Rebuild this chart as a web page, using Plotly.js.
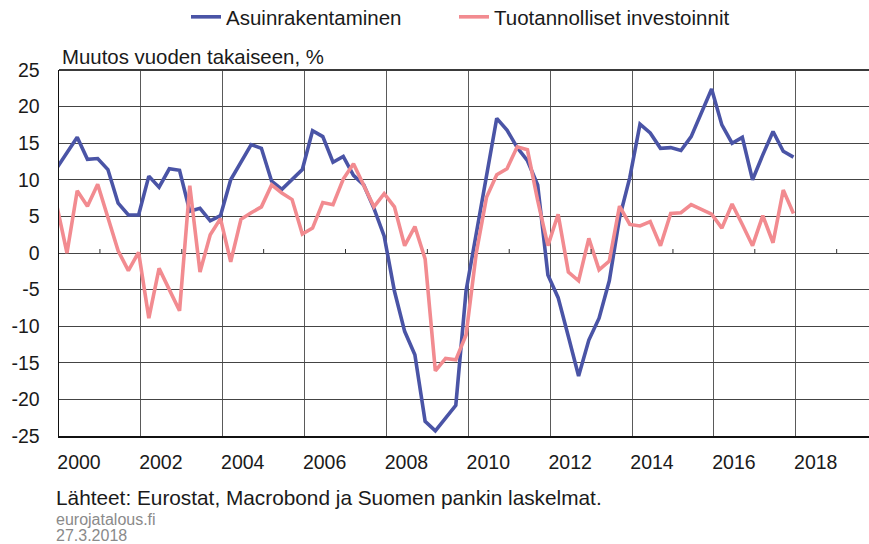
<!DOCTYPE html>
<html><head><meta charset="utf-8">
<script src="https://cdn.plot.ly/plotly-3.0.1.min.js"></script>
<style>html,body{margin:0;padding:0;background:#fff;}#chart{width:869px;height:544px;}</style>
</head><body><div id="chart"></div>
<script>
// Quarterly observations, 1999Q4 ... 2017Q4 (year-on-year change, %)
const firstPointYear = 1999.945;
const quarterLength = 0.25;

const asuinrakentaminen = [
  11.6, 13.7, 15.8, 12.8, 12.9, 11.4, 6.8, 5.2, 5.2, 10.5,
  9.0, 11.5, 11.3, 5.7, 6.1, 4.4, 5.1, 10.0, 12.5, 14.8,
  14.3, 9.8, 8.7, 10.0, 11.4, 16.7, 15.9, 12.4, 13.2, 10.6,
  9.3, 6.1, 2.3, -5.2, -10.7, -13.9, -23.0, -24.3, -22.6, -20.8,
  -5.2, 2.5, 10.5, 18.4, 16.8, 14.4, 12.6, 9.3, -3.0, -6.1,
  -11.4, -16.8, -11.9, -8.9, -3.8, 4.8, 10.3, 17.6, 16.4, 14.3,
  14.4, 14.0, 15.9, 19.1, 22.4, 17.5, 15.0, 15.8, 10.0, 13.4,
  16.6, 13.9, 13.1
];

const tuotannollisetInvestoinnit = [
  6.5, 0.0, 8.5, 6.4, 9.4, 4.8, 0.3, -2.4, 0.1, -8.9,
  -2.1, -5.0, -7.9, 9.2, -2.6, 2.5, 4.7, -1.2, 4.6, 5.5,
  6.3, 9.3, 8.2, 7.3, 2.6, 3.4, 6.9, 6.6, 10.1, 12.2,
  9.3, 6.3, 8.1, 6.3, 1.0, 3.6, -0.8, -16.1, -14.4, -14.6,
  -11.2, 0.0, 7.6, 10.7, 11.5, 14.5, 14.1, 7.2, 1.0, 5.3,
  -2.6, -3.8, 2.0, -2.3, -1.1, 6.4, 3.9, 3.7, 4.3, 1.0,
  5.4, 5.5, 6.6, 5.9, 5.3, 3.4, 6.7, 3.9, 1.0, 5.1,
  1.4, 8.6, 5.4
];

const seriesNames = ['Asuinrakentaminen', 'Tuotannolliset investoinnit'];
const xGridYears = [2000, 2002, 2004, 2006, 2008, 2010, 2012, 2014, 2016, 2018];
const xTickLabels = ['2000', '2002', '2004', '2006', '2008', '2010', '2012', '2014', '2016', '2018'];
const minorTickYears = [2001, 2003, 2005, 2007, 2009, 2011, 2013, 2015, 2017, 2019];
const yTickValues = [-25, -20, -15, -10, -5, 0, 5, 10, 15, 20, 25];
const yTickLabels = ['-25', '-20', '-15', '-10', '-5', '0', '5', '10', '15', '20', '25'];

const xDates = asuinrakentaminen.map((_, i) => firstPointYear + i * quarterLength);

// layout geometry (pixels)
const W = 869, H = 544;
const M = {l: 59, r: 0, t: 70, b: 108};
const px = x => (x - M.l) / (W - M.l - M.r);
const py = y => (H - M.b - y) / (H - M.t - M.b);

const FONT = 'Liberation Sans, Arial, sans-serif';

const traces = [
  {x: xDates, y: asuinrakentaminen, name: seriesNames[0], type: 'scatter', mode: 'lines',
   legendwidth: 223, line: {color: '#4a54a6', width: 3.6}},
  {x: xDates, y: tuotannollisetInvestoinnit, name: seriesNames[1], type: 'scatter', mode: 'lines',
   legendwidth: 250, line: {color: '#f28b90', width: 3.6}}
];

const shapes = minorTickYears.map(yr => ({
  type: 'line', xref: 'x', yref: 'y', ysizemode: 'pixel', yanchor: 0,
  x0: yr, x1: yr, y0: 0, y1: 4, line: {color: '#333', width: 1}
}));
shapes.push({type: 'line', xref: 'paper', yref: 'paper', x0: 0, x1: 1, y0: 1, y1: 1,
  line: {color: '#3a3a3a', width: 2}});

const layout = {
  width: W, height: H,
  margin: M,
  paper_bgcolor: '#fff', plot_bgcolor: '#fff',
  font: {family: FONT, size: 20, color: '#1a1a1a'},
  showlegend: true,
  legend: {
    orientation: 'h', xref: 'container', yref: 'container',
    x: 186 / W, xanchor: 'left', y: 1 - 17 / H, yanchor: 'middle',
    font: {family: FONT, size: 20.5, color: '#1a1a1a'},
    entrywidthmode: 'pixels',
    bgcolor: 'rgba(0,0,0,0)', borderwidth: 0
  },
  xaxis: {
    range: [2000, 2019.79], tickmode: 'array', tickvals: xGridYears, ticktext: xTickLabels,
    ticklabelshift: 20, ticklabelstandoff: 8,
    showgrid: true, gridcolor: '#5a5a5a', gridwidth: 1,
    zeroline: false, showline: true, linecolor: '#111', linewidth: 2,
    ticks: '', tickfont: {family: FONT, size: 19.5, color: '#1a1a1a'}, fixedrange: true
  },
  yaxis: {
    range: [-25, 25], tickmode: 'array', tickvals: yTickValues, ticktext: yTickLabels,
    showgrid: true, gridcolor: '#444', gridwidth: 1,
    zeroline: false, showline: true, linecolor: '#111', linewidth: 1.5,
    ticks: '', ticklabelstandoff: 14,
    tickfont: {family: FONT, size: 19.5, color: '#1a1a1a'}, fixedrange: true
  },
  shapes: shapes,
  annotations: [
    {text: 'Muutos vuoden takaiseen, %', xref: 'paper', yref: 'paper', x: px(60), y: py(57),
     xanchor: 'left', yanchor: 'middle', showarrow: false, font: {family: FONT, size: 20.4, color: '#1a1a1a'}},
    {text: 'Lähteet: Eurostat, Macrobond ja Suomen pankin laskelmat.', xref: 'paper', yref: 'paper',
     x: px(54), y: py(497), xanchor: 'left', yanchor: 'middle', showarrow: false,
     font: {family: FONT, size: 20.8, color: '#1a1a1a'}},
    {text: 'eurojatalous.fi', xref: 'paper', yref: 'paper', x: px(54), y: py(519),
     xanchor: 'left', yanchor: 'middle', showarrow: false, font: {family: FONT, size: 16, color: '#8a8a8a'}},
    {text: '27.3.2018', xref: 'paper', yref: 'paper', x: px(54), y: py(535),
     xanchor: 'left', yanchor: 'middle', showarrow: false, font: {family: FONT, size: 16, color: '#8a8a8a'}}
  ]
};

Plotly.newPlot('chart', traces, layout, {displayModeBar: false, staticPlot: true});
</script></body></html>
